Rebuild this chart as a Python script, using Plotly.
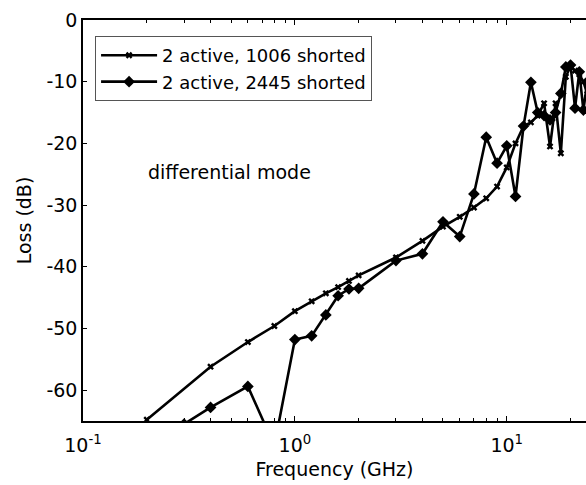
import plotly.graph_objects as go

# Frequency sweep (GHz) and measured loss (dB) for the two terminations
freq_1006 = [0.2, 0.4, 0.6, 0.8, 1.0, 1.2, 1.4, 1.6, 1.8, 2.0, 3, 4, 5, 6, 7, 8, 9,
             10, 11, 12, 13, 14, 15, 16, 17, 18, 19, 20, 21, 22, 23, 24]
loss_1006 = [-64.8, -56.2, -52.2, -49.6, -47.2, -45.6, -44.3, -43.3, -42.3, -41.4,
             -38.5, -35.8, -33.5, -31.9, -30.4, -28.9, -27.0, -23.9, -20.0, -17.2,
             -16.6, -15.5, -13.5, -20.5, -13.5, -21.6, -9.2, -7.5, -8.2, -8.8,
             -10.0, -12.0]

freq_2445 = [0.2, 0.3, 0.4, 0.6, 0.8, 1.0, 1.2, 1.4, 1.6, 1.8, 2.0, 3, 4, 5, 6, 7, 8,
             9, 10, 11, 12, 13, 14, 15, 16, 17, 18, 19, 20, 21, 22, 23, 24]
loss_2445 = [-72.0, -65.5, -62.8, -59.4, -69.0, -51.8, -51.2, -47.8, -44.7, -43.6,
             -43.5, -39.0, -37.9, -32.7, -35.1, -28.2, -19.0, -23.2, -20.4, -28.6,
             -17.2, -10.1, -15.0, -15.5, -16.2, -15.0, -11.9, -7.6, -7.3, -14.3,
             -8.4, -14.6, -10.0]

series_names = ["2 active, 1006 shorted", "2 active, 2445 shorted"]

x_tickvals = [0.1, 1, 10]
x_ticktext = ["10<sup>-1</sup>", "10<sup>0</sup>", "10<sup>1</sup>"]
y_tickvals = [-60, -50, -40, -30, -20, -10, 0]
y_ticktext = ["-60", "-50", "-40", "-30", "-20", "-10", "0"]

FONT = "DejaVu Sans"

fig = go.Figure()
fig.add_trace(go.Scatter(
    x=freq_1006, y=loss_1006, name=series_names[0], mode="lines+markers",
    line=dict(color="black", width=2.6),
    marker=dict(symbol="x", size=6, color="black"),
))
fig.add_trace(go.Scatter(
    x=freq_2445, y=loss_2445, name=series_names[1], mode="lines+markers",
    line=dict(color="black", width=2.6),
    marker=dict(symbol="diamond", size=9, color="black"),
))

fig.add_annotation(
    x=-0.31, y=-24.6, xref="x", yref="y", text="differential mode",
    showarrow=False, font=dict(family=FONT, size=19, color="black"),
)

fig.update_layout(
    width=586, height=485,
    margin=dict(l=83, r=0, t=20, b=64),
    paper_bgcolor="white", plot_bgcolor="white",
    font=dict(family=FONT, size=19, color="black"),
    showlegend=True,
    legend=dict(
        x=0.024, y=0.96, xanchor="left", yanchor="top",
        bgcolor="white", bordercolor="#555555", borderwidth=1,
        font=dict(family=FONT, size=18, color="black"),
        itemwidth=56,
        tracegroupgap=0,
    ),
    xaxis=dict(
        type="log", range=[-1, 1.374],
        showgrid=False, zeroline=False,
        showline=True, linecolor="black", linewidth=1.5, mirror="allticks",
        ticks="inside", ticklen=5, tickcolor="black",
        tickvals=x_tickvals, ticktext=x_ticktext,
        ticklabelstandoff=6,
        minor=dict(ticks="inside", ticklen=3, tickcolor="black",
                   tickvals=[m * d for d in (0.1, 1, 10) for m in range(2, 10)],
                   showgrid=False),
        title=dict(text="Frequency (GHz)", standoff=8,
                   font=dict(family=FONT, size=19)),
        tickfont=dict(family=FONT, size=19),
    ),
    yaxis=dict(
        range=[-65, 0],
        showgrid=False, zeroline=False,
        showline=True, linecolor="black", linewidth=1.5, mirror=False,
        ticks="inside", ticklen=4, tickcolor="black",
        tickvals=y_tickvals, ticktext=y_ticktext,
        title=dict(text="Loss (dB)", standoff=10,
                   font=dict(family=FONT, size=19)),
        tickfont=dict(family=FONT, size=19),
    ),
)

fig.write_html("out.html")
